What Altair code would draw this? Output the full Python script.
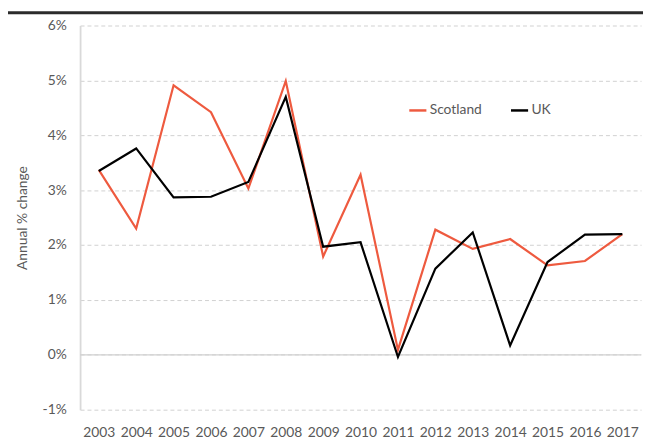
import altair as alt
import pandas as pd

years = list(range(2003, 2018))
scotland = [3.37, 2.30, 4.91, 4.42, 3.03, 4.99, 1.79, 3.28, 0.09, 2.28, 1.93, 2.11, 1.63, 1.71, 2.20]
uk = [3.35, 3.76, 2.87, 2.88, 3.15, 4.70, 1.97, 2.05, -0.04, 1.57, 2.23, 0.17, 1.69, 2.19, 2.20]
series_names = ["Scotland", "UK"]
series_colors = ["#EE5A3F", "#000000"]
y_ticks = [-1, 0, 1, 2, 3, 4, 5, 6]

rows = []
for i, yr in enumerate(years):
    rows.append({"year": str(yr), "series": "Scotland", "value": scotland[i]})
    rows.append({"year": str(yr), "series": "UK", "value": uk[i]})
df = pd.DataFrame(rows)

FONT = "Lato"
GREY = "#595959"
W, H = 568, 389

x = alt.X("year:O",
          scale=alt.Scale(padding=0.5),
          axis=alt.Axis(title=None, grid=False, domain=False, labelAngle=0,
                        ticks=False, labelPadding=16, labelFontSize=14, labelColor=GREY,
                        labelFont=FONT))
y = alt.Y("value:Q",
          scale=alt.Scale(domain=[-1, 6], nice=False),
          axis=alt.Axis(values=y_ticks, title="Annual % change", labelExpr="datum.value + '%'",
                        grid=True, gridDash=[4, 3], gridColor="#D0D0D0", domain=True,
                        domainColor="#D9D9D9", domainWidth=1.8, ticks=False, labelPadding=14,
                        labelFontSize=14, labelColor=GREY, labelFont=FONT,
                        titleFont=FONT, titleFontSize=14, titleColor=GREY,
                        titleFontWeight="normal", titlePadding=13))

lines = alt.Chart(df).mark_line(strokeWidth=2.2).encode(
    x=x, y=y,
    color=alt.Color("series:N", scale=alt.Scale(domain=series_names, range=series_colors),
                    legend=alt.Legend(title=None, orient="none", legendX=332, legendY=76,
                                      direction="horizontal", symbolType="stroke",
                                      symbolStrokeWidth=2.5, symbolSize=300,
                                      labelFontSize=14, labelColor=GREY, labelFont=FONT,
                                      labelOffset=2, columnPadding=24))
)

zero = alt.Chart(pd.DataFrame({"v": [0]})).mark_rule(color="#D0D0D0", strokeWidth=1.2).encode(
    y=alt.Y("v:Q", scale=alt.Scale(domain=[-1, 6], nice=False))
)

topbar = alt.Chart(pd.DataFrame({"v": [0]})).mark_rule(color="#2B2B2B", strokeWidth=3).encode(
    x=alt.value(-74), x2=alt.value(W + 10), y=alt.value(-13)
)

chart = alt.layer(zero, lines, topbar).properties(
    width=W, height=H,
    autosize=alt.AutoSizeParams(type="none"),
    padding={"left": 73, "top": 15, "right": 2, "bottom": 31},
).configure_view(stroke=None)

chart.save("out.html", embed_options={"renderer": "svg", "actions": False})
